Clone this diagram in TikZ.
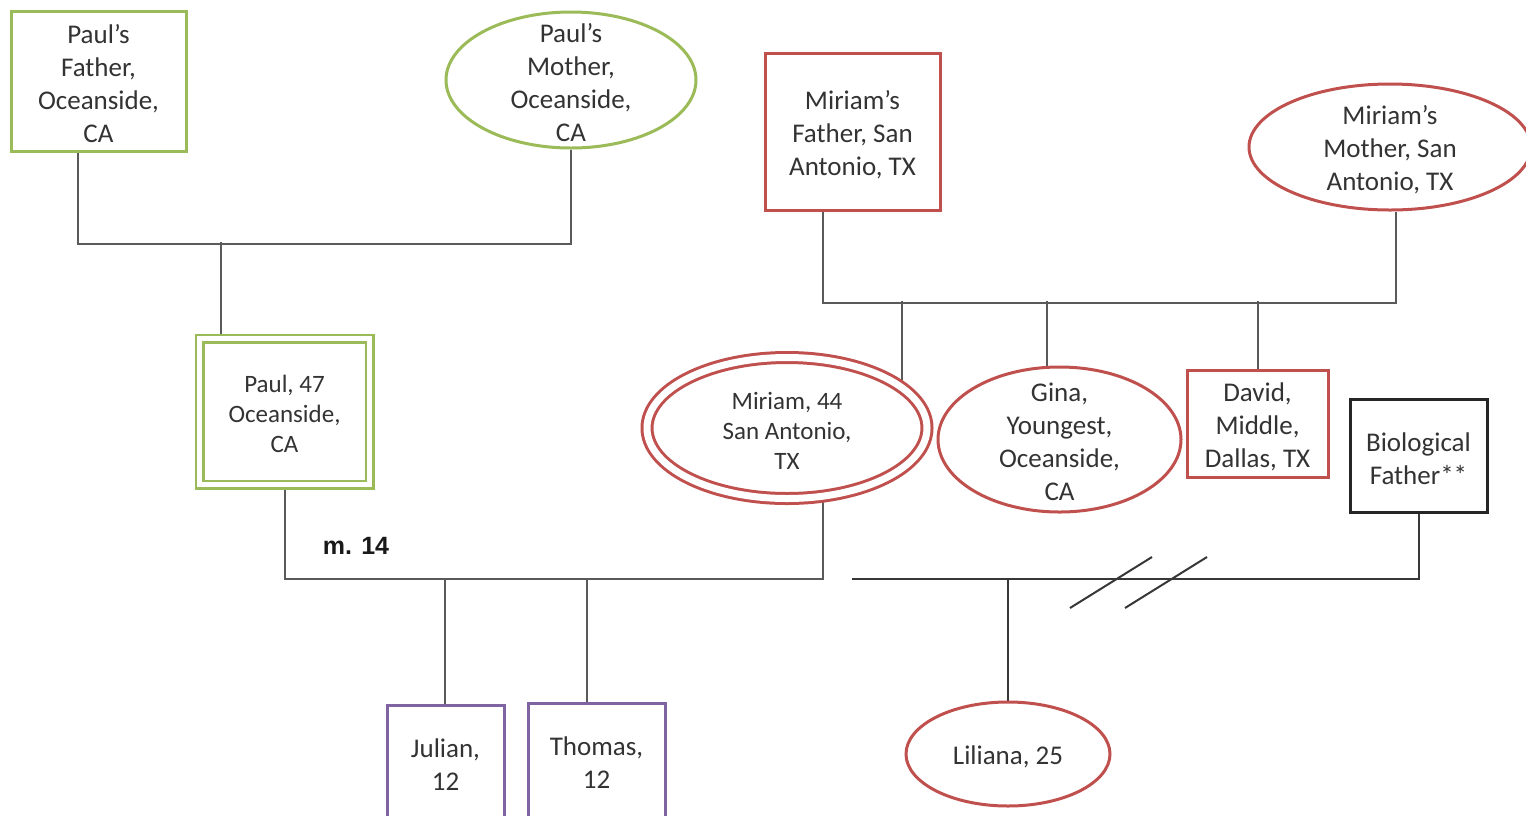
\documentclass[tikz,border=0pt]{standalone}
\usepackage{fontspec}
\setmainfont{Carlito}
\newfontfamily\labelsans{Liberation Sans}
\usetikzlibrary{shapes.geometric,backgrounds}
\definecolor{kinGreen}{RGB}{155,187,89}
\definecolor{kinRed}{RGB}{192,80,77}
\definecolor{kinPurple}{RGB}{128,100,162}
\definecolor{lineGray}{RGB}{90,90,90}
\definecolor{lineDark}{RGB}{55,55,55}

\begin{document}
\begin{tikzpicture}[x=1pt,y=-1pt,
  txt/.style={font=\fontsize{27}{33}\selectfont, text=black!80, align=center, yshift=-3pt},
  smalltxt/.style={font=\fontsize{25}{30}\selectfont, text=black!80, align=center, yshift=-2pt},
  boxed/.style={draw, rectangle, fill=white, line width=3pt, inner sep=0pt},
  oval/.style={draw, ellipse, fill=white, line width=3pt, inner sep=0pt},
  twin/.style={double=white, double distance=5pt, line width=2.5pt},
  conn/.style={draw=lineGray, line width=2pt},
  darkconn/.style={draw=lineDark, line width=2pt},
]
\useasboundingbox (0,0) rectangle (1526,815);

% ---- grandparents ----
\node[boxed, draw=kinGreen, minimum width=175, minimum height=140,
  label={[txt]center:{Paul’s\\Father,\\Oceanside,\\CA}}] (pf) at (98.5,81) {};
\node[oval, draw=kinGreen, minimum width=250, minimum height=136,
  label={[txt]center:{Paul’s\\Mother,\\Oceanside,\\CA}}] (pmo) at (571,80) {};
\node[boxed, draw=kinRed, minimum width=175, minimum height=157,
  label={[txt]center:{Miriam’s\\Father, San\\Antonio, TX}}] (mf) at (852.5,131.5) {};
\node[oval, draw=kinRed, minimum width=282, minimum height=126,
  label={[txt]center:{Miriam’s\\Mother, San\\Antonio, TX}}] (mmo) at (1390,147) {};

% ---- parents and siblings ----
\node[boxed, twin, draw=kinGreen, minimum width=170, minimum height=146,
  label={[smalltxt]center:{Paul, 47\\Oceanside,\\CA}}] (pa) at (284.5,411.5) {};
\node[oval, double=white, double distance=7pt, line width=3pt, draw=kinRed,
  minimum width=280, minimum height=141,
  label={[smalltxt,yshift=-1pt]center:{Miriam, 44\\San Antonio,\\TX}}] (mi) at (787,428) {};
\node[oval, draw=kinRed, minimum width=243, minimum height=145,
  label={[txt,yshift=1pt]center:{Gina,\\Youngest,\\Oceanside,\\CA}}] (gi) at (1059.5,439.5) {};
\node[boxed, draw=kinRed, minimum width=141, minimum height=107,
  label={[txt]center:{David,\\Middle,\\Dallas, TX}}] (da) at (1257.5,423.5) {};
\node[boxed, draw=black!85, minimum width=137, minimum height=113,
  label={[txt]center:{Biological\\Father**}}] (bf) at (1418.5,455.5) {};

\node[font=\labelsans\bfseries\fontsize{25}{30}\selectfont, text=black!90] (mar) at (356,546) {m. 14};

% ---- children ----
\node[boxed, draw=kinPurple, minimum width=117, minimum height=130,
  label={[txt,yshift=8pt]center:{Julian,\\12}}] (ju) at (445.5,770) {};
\node[boxed, draw=kinPurple, minimum width=137, minimum height=132,
  label={[txt,yshift=9pt]center:{Thomas,\\12}}] (th) at (596.5,769) {};
\node[oval, draw=kinRed, minimum width=204, minimum height=104,
  label={[txt]center:{Liliana, 25}}] (li) at (1008,754) {};

% ---- connectors ----
\coordinate (pj) at (221,242);
\coordinate (c1) at (902,301);
\coordinate (c2) at (1047,301);
\coordinate (c3) at (1258,301);
\coordinate (mj) at (823,579);
\coordinate (k1) at (445,579);
\coordinate (k2) at (587,579);
\coordinate (bj) at (852,579);
\coordinate (lj) at (1008,579);

\begin{pgfonlayer}{background}
  % Paul's parents
  \draw[conn] ([xshift=-20.5pt]pf.south) -- ++(0,91) -| (pmo.south);
  \draw[conn] (pj) -- (pj |- pa.north);
  % Miriam's parents and their children
  \draw[conn] ([xshift=-29.5pt]mf.south) -- ++(0,91) -| ([xshift=6pt]mmo.south);
  \draw[conn] (c1) -- (c1 |- mi.20);
  \draw[conn] (c2) -- (c2 |- gi.north);
  \draw[conn] (c3) -- (c3 |- da.north);
  % marriage of Paul and Miriam
  \draw[conn] (pa.south) |- (mj) -- (mj |- mi.south);
  \draw[conn] (k1) -- (k1 |- ju.north);
  \draw[conn] (k2) -- (k2 |- th.north);
  % Miriam and the biological father (divorced)
  \draw[darkconn] (bj) -| (bf.south);
  \draw[darkconn] (lj) -- (li.north);
  \draw[darkconn] (1070,608) -- (1152,557);
  \draw[darkconn] (1125,608) -- (1207,557);
\end{pgfonlayer}
\end{tikzpicture}
\end{document}
